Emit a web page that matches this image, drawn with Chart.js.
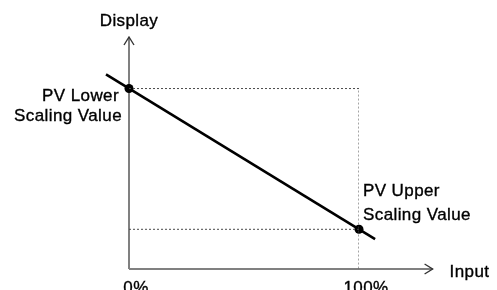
<!DOCTYPE html>
<html lang="en">
<head>
  <meta charset="UTF-8" />
  <title>PV scaling</title>
  <script src="https://cdn.jsdelivr.net/npm/chart.js"></script>
  <style>
    body {
      margin: 0;
      background: #fff;
    }
    #wrap {
      width: 497px;
      height: 290px;
    }
  </style>
</head>
<body>
  <div id="wrap">
    <canvas id="scaling" width="497" height="290"></canvas>
  </div>

  <script>
    // input (%) vs display value
    const scaleInput = [0, 100];
    const scaleDisplay = [100, 22];
    const lineInput = [-10, 107];
    const lineDisplay = [107.8, 16.5];
    const tickLabels = ['0%', '100%'];
    const axisEnd = { x: 132, y: 128 };

    const FONT = '17px "Liberation Sans", Arial, sans-serif';
    const AXIS = '#808080';
    const GUIDE = '#4a4a4a';

    const toPts = (xs, ys) => xs.map((x, i) => ({ x: x, y: ys[i] }));

    function label(ctx, text, x, y) {
      ctx.strokeText(text, x, y);
      ctx.fillText(text, x, y);
    }

    const decorations = {
      id: 'decorations',
      beforeDatasetsDraw(chart) {
        const { ctx, scales: { x, y } } = chart;
        const x0 = x.getPixelForValue(0);
        const y0 = y.getPixelForValue(0);
        const xEnd = x.getPixelForValue(axisEnd.x);
        const yEnd = y.getPixelForValue(axisEnd.y) - 1;

        ctx.save();
        ctx.strokeStyle = AXIS;
        ctx.lineWidth = 2;
        ctx.beginPath();
        ctx.moveTo(x0, y0);
        ctx.lineTo(x0, yEnd);
        ctx.moveTo(x0, y0);
        ctx.lineTo(xEnd, y0);
        ctx.stroke();

        // arrow heads
        ctx.strokeStyle = '#333';
        ctx.lineWidth = 1.4;
        ctx.beginPath();
        ctx.moveTo(x0 - 5, yEnd + 8);
        ctx.lineTo(x0, yEnd);
        ctx.lineTo(x0 + 5, yEnd + 8);
        ctx.moveTo(xEnd - 8, y0 - 5);
        ctx.lineTo(xEnd, y0);
        ctx.lineTo(xEnd - 8, y0 + 5);
        ctx.stroke();
        ctx.restore();
      },
      afterDatasetsDraw(chart) {
        const { ctx, scales: { x, y } } = chart;
        const x0 = x.getPixelForValue(0);
        const y0 = y.getPixelForValue(0);
        const p1 = { x: x.getPixelForValue(scaleInput[0]), y: y.getPixelForValue(scaleDisplay[0]) };
        const p2 = { x: x.getPixelForValue(scaleInput[1]), y: y.getPixelForValue(scaleDisplay[1]) };

        ctx.save();
        ctx.font = FONT;
        ctx.letterSpacing = '0.4px';
        ctx.fillStyle = '#000';
        ctx.strokeStyle = '#000';
        ctx.lineWidth = 0.35;
        ctx.textBaseline = 'alphabetic';

        ctx.textAlign = 'center';
        label(ctx, 'Display', x0, 26);

        ctx.textAlign = 'right';
        label(ctx, 'PV Lower', x0 - 10, p1.y + 12);
        label(ctx, 'Scaling Value', x0 - 7, p1.y + 32);

        ctx.textAlign = 'left';
        label(ctx, 'PV Upper', p2.x + 4, p2.y - 33);
        label(ctx, 'Scaling Value', p2.x + 4, p2.y - 9);

        label(ctx, 'Input', x.getPixelForValue(axisEnd.x) + 17, y0 + 8);

        ctx.textAlign = 'center';
        scaleInput.forEach((v, i) => {
          label(ctx, tickLabels[i], x.getPixelForValue(v) + 7, y0 + 24);
        });
        ctx.restore();
      }
    };

    new Chart(document.getElementById('scaling'), {
      type: 'scatter',
      data: {
        datasets: [
          {
            // guide to lower scaling value
            data: toPts([scaleInput[0], scaleInput[1], scaleInput[1]], [scaleDisplay[0], scaleDisplay[0], 0]),
            showLine: true,
            borderColor: GUIDE,
            borderWidth: 1,
            borderDash: [2, 2],
            pointRadius: 0
          },
          {
            data: toPts(scaleInput, [scaleDisplay[1], scaleDisplay[1]]),
            showLine: true,
            borderColor: GUIDE,
            borderWidth: 1,
            borderDash: [2, 2],
            pointRadius: 0
          },
          {
            data: toPts(lineInput, lineDisplay),
            showLine: true,
            borderColor: '#000',
            borderWidth: 2.6,
            pointRadius: 0,
            clip: false
          },
          {
            data: toPts(scaleInput, scaleDisplay),
            pointBackgroundColor: '#000',
            pointBorderColor: '#000',
            pointBorderWidth: 0,
            pointRadius: 4.5,
            clip: false
          }
        ]
      },
      options: {
        responsive: false,
        animation: false,
        layout: { padding: { left: 129, right: 138, top: 38, bottom: 21 } },
        scales: {
          x: { type: 'linear', min: 0, max: 100, display: false },
          y: { type: 'linear', min: 0, max: 128, display: false }
        },
        plugins: {
          legend: { display: false },
          tooltip: { enabled: false }
        }
      },
      plugins: [decorations]
    });
  </script>
</body>
</html>
